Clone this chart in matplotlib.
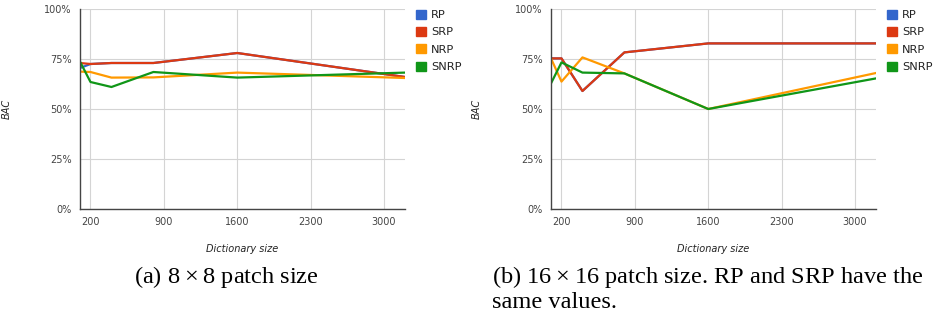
import matplotlib.pyplot as plt
from matplotlib.patches import Patch

# dictionary sizes
sizes = [100, 200, 400, 800, 1600, 3200]
series_names = ['RP', 'SRP', 'NRP', 'SNRP']
colors = ['#3366cc', '#dc3912', '#ff9900', '#109618']

# (a) 8x8 patch size, BAC in %
rp_a = [70.5, 72.5, 73.0, 73.0, 78.0, 66.0]
srp_a = [73.0, 72.5, 73.0, 73.0, 78.0, 66.0]
nrp_a = [68.7, 68.5, 65.7, 65.8, 68.2, 65.5]
snrp_a = [73.7, 63.5, 61.0, 68.5, 65.7, 68.2]

# (b) 16x16 patch size
rp_b = [75.3, 75.3, 59.0, 78.3, 82.8, 82.8]
srp_b = [75.3, 75.3, 59.0, 78.3, 82.8, 82.8]
nrp_b = [75.3, 63.7, 75.8, 67.8, 50.0, 68.0]
snrp_b = [62.8, 73.3, 68.2, 67.8, 50.0, 65.3]

xticks = [200, 900, 1600, 2300, 3000]
yticks = [0, 25, 50, 75, 100]
captions = ['(a) $8 \\times 8$ patch size',
            '(b) $16 \\times 16$ patch size. RP and SRP have the\nsame values.']

W, H = 938, 321
plt.rcParams['mathtext.fontset'] = 'custom'
plt.rcParams['mathtext.rm'] = 'Liberation Serif'
fig = plt.figure(figsize=(W / 100, H / 100), dpi=100)


def draw_panel(left_px, data, caption, cap_x, ylab_x):
    ax = fig.add_axes([left_px / W, (H - 209) / H, 325 / W, 200 / H])
    for vals, name, c in zip(data, series_names, colors):
        ax.plot(sizes, vals, color=c, lw=1.6, label=name)
    ax.set_xlim(100, 3200)
    ax.set_ylim(0, 100)
    ax.set_xticks(xticks)
    ax.set_yticks(yticks)
    ax.set_yticklabels([f'{t}%' for t in yticks])
    ax.tick_params(length=0, labelsize=7, colors='#444444', pad=6)
    ax.grid(True, color='#d4d4d4', lw=0.8)
    ax.set_axisbelow(True)
    for s in ['top', 'right']:
        ax.spines[s].set_visible(False)
    for s in ['left', 'bottom']:
        ax.spines[s].set_color('#444444')
        ax.spines[s].set_linewidth(1.0)
    ax.set_xlabel('Dictionary size', fontsize=7, style='italic',
                  color='#222222', labelpad=12)
    ax.set_ylabel('BAC', fontsize=7, style='italic', color='#222222')
    ax.yaxis.set_label_coords((ylab_x - left_px) / 325, 0.5)
    handles = [Patch(color=c, label=n) for c, n in zip(colors, series_names)]
    ax.legend(handles=handles, loc='upper left', bbox_to_anchor=(1.02, 1.02),
              frameon=False, fontsize=8.2, handlelength=0.85,
              handleheight=0.85, handletextpad=0.45, labelspacing=0.6,
              labelcolor='#222222', borderaxespad=0)
    fig.text(cap_x / W, 1 - 264 / H, caption, fontsize=17.6,
             family='Liberation Serif', va='top',
             ha='center' if cap_x < 400 else 'left', linespacing=1.15)
    return ax


draw_panel(80, [rp_a, srp_a, nrp_a, snrp_a], captions[0], 226, 12)
draw_panel(551, [rp_b, srp_b, nrp_b, snrp_b], captions[1], 492, 482)

plt.savefig('out.png', dpi=100)
